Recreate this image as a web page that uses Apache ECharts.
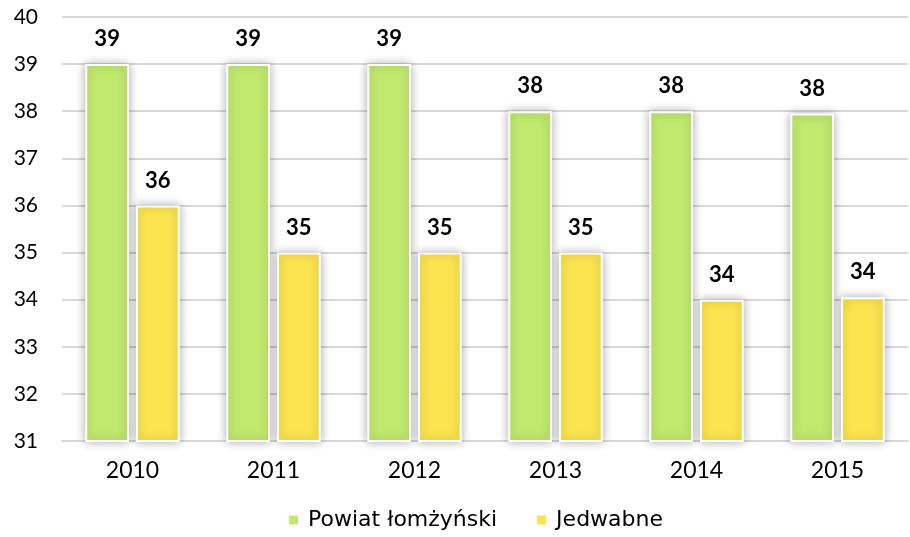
<!DOCTYPE html>
<html>
<head>
<meta charset="utf-8">
<script src="https://cdn.jsdelivr.net/npm/echarts@6/dist/echarts.min.js"></script>
<style>
  html, body { margin: 0; padding: 0; background: #fff; }
  #chart { width: 910px; height: 537px; }
</style>
</head>
<body>
<div id="chart"></div>
<script>
var years = ['2010', '2011', '2012', '2013', '2014', '2015'];
var powiat = [39, 39, 39, 38, 38, 37.95];
var jedwabne = [36, 35, 35, 35, 34, 34.05];
var seriesNames = ['Powiat łomżyński', 'Jedwabne'];

var fontName = 'Lato';

function barStyle(color) {
    return {
        color: color,
        borderColor: '#ffffff',
        borderWidth: 2,
        shadowColor: 'rgba(0,0,0,0.3)',
        shadowBlur: 10,
        shadowOffsetX: 0,
        shadowOffsetY: 0
    };
}

var labelStyle = {
    show: true,
    position: 'top',
    distance: 14,
    color: '#000',
    fontWeight: 'bold',
    fontSize: 22,
    fontFamily: fontName,
    formatter: function (p) { return Math.round(p.value); }
};

var option = {
    animation: false,
    grid: {
        left: 62,
        right: 2,
        top: 17,
        bottom: 96
    },
    legend: {
        data: seriesNames,
        bottom: 1,
        left: 282,
        itemWidth: 11,
        itemHeight: 11,
        itemGap: 38,
        icon: 'rect',
        textStyle: {
            fontSize: 22,
            fontFamily: 'DejaVu Sans',
            color: '#000',
            padding: [0, 0, 0, 4]
        }
    },
    xAxis: {
        type: 'category',
        data: years,
        axisTick: {show: false},
        axisLine: {lineStyle: {color: '#d9d9d9', width: 2}},
        axisLabel: {
            fontSize: 23,
            fontFamily: fontName,
            color: '#000',
            margin: 18
        }
    },
    yAxis: {
        type: 'value',
        min: 31,
        max: 40,
        interval: 1,
        axisLine: {show: false},
        axisTick: {show: false},
        splitLine: {lineStyle: {color: '#d9d9d9', width: 2}},
        axisLabel: {
            fontSize: 21,
            fontFamily: fontName,
            color: '#000',
            margin: 24,
            align: 'right'
        }
    },
    series: [
        {
            name: seriesNames[0],
            type: 'bar',
            data: powiat,
            barGap: '16%',
            barCategoryGap: '33%',
            itemStyle: barStyle('#c0e96e'),
            label: labelStyle
        },
        {
            name: seriesNames[1],
            type: 'bar',
            data: jedwabne,
            itemStyle: barStyle('#fbe44f'),
            label: labelStyle
        }
    ]
};

var chart = echarts.init(document.getElementById('chart'));
chart.setOption(option);
</script>
</body>
</html>
